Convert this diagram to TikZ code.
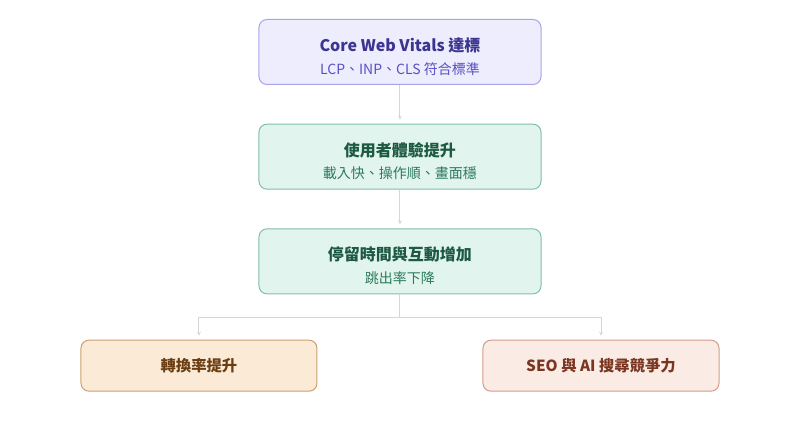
\documentclass[tikz,border=0pt]{standalone}
\usepackage{fontspec}
\setmainfont{Noto Sans CJK TC}
\usepackage{tikz}
\usetikzlibrary{positioning,arrows.meta}
\definecolor{VitalsFill}{HTML}{EEEDFD}
\definecolor{VitalsLine}{HTML}{A9A3EA}
\definecolor{VitalsTitle}{HTML}{3B3490}
\definecolor{VitalsSub}{HTML}{5A50C2}
\definecolor{UxFill}{HTML}{E2F4EE}
\definecolor{UxLine}{HTML}{7FC0A6}
\definecolor{UxTitle}{HTML}{1D5A43}
\definecolor{UxSub}{HTML}{2C7A5C}
\definecolor{ConvFill}{HTML}{FBEBD6}
\definecolor{ConvLine}{HTML}{C9A16E}
\definecolor{ConvText}{HTML}{6A3E12}
\definecolor{SeoFill}{HTML}{FAEBE5}
\definecolor{SeoLine}{HTML}{D49C8A}
\definecolor{SeoText}{HTML}{7A3621}
\definecolor{LinkGray}{HTML}{D6D6D6}

\begin{document}
\begin{tikzpicture}[node distance=29pt and 0pt, >={Stealth[length=3pt,width=3pt]},
  box/.style={rectangle, rounded corners=6pt, line width=0.75pt, align=center, minimum width=211.5pt, minimum height=48.75pt},
  endbox/.style={rectangle, rounded corners=6pt, line width=0.75pt, align=center, minimum width=177pt, minimum height=38.25pt, font=\bfseries\fontsize{11.5}{14}\selectfont},
  link/.style={->, line width=0.75pt, LinkGray, shorten >=3pt}]
  % Nodes
  \node [box, draw=VitalsLine, fill=VitalsFill] (vitals) {{\rule{0pt}{17pt}\bfseries\fontsize{12}{14}\selectfont\color{VitalsTitle}Core Web Vitals 達標}\\[5pt]{\fontsize{10.5}{14}\selectfont\color{VitalsSub}LCP、INP、CLS 符合標準}};
  \node [box, draw=UxLine, fill=UxFill, below=of vitals] (ux) {{\rule{0pt}{17pt}\bfseries\fontsize{12}{14}\selectfont\color{UxTitle}使用者體驗提升}\\[5pt]{\fontsize{10.5}{14}\selectfont\color{UxSub}載入快、操作順、畫面穩}};
  \node [box, draw=UxLine, fill=UxFill, below=of ux] (stay) {{\rule{0pt}{17pt}\bfseries\fontsize{12}{14}\selectfont\color{UxTitle}停留時間與互動增加}\\[5pt]{\fontsize{10.5}{14}\selectfont\color{UxSub}跳出率下降}};
  \node [endbox, draw=ConvLine, fill=ConvFill, text=ConvText, below left=34pt and -44.25pt of stay] (conv) {轉換率提升};
  \node [endbox, draw=SeoLine, fill=SeoFill, text=SeoText, below right=34pt and -44.25pt of stay] (seo) {SEO 與 AI 搜尋競爭力};

  % Paths
  \draw [link] (vitals) -- (ux);
  \draw [link] (ux) -- (stay);
  \draw [link] (stay.south) -- ++(0,-17.25pt) -| (conv);
  \draw [link] (stay.south) -- ++(0,-17.25pt) -| (seo);

  \useasboundingbox ([shift={(-300pt,14.25pt)}]vitals.north) rectangle ([shift={(300pt,-279.4pt)}]vitals.center);
\end{tikzpicture}
\end{document}
